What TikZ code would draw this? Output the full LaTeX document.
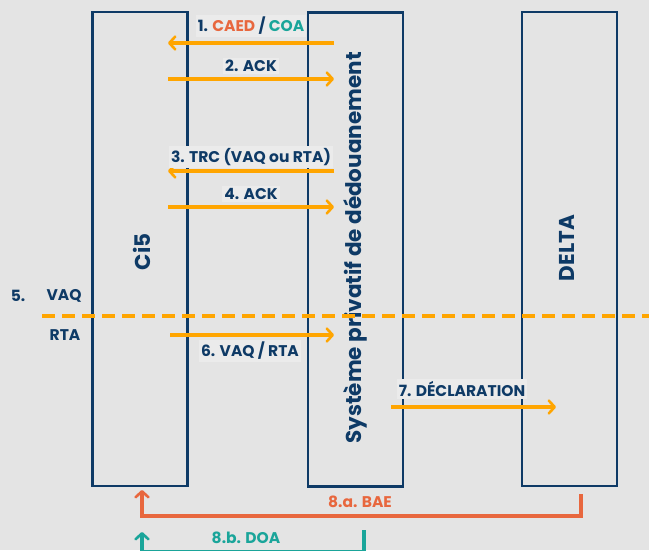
\documentclass[tikz,border=0pt]{standalone}
\usepackage{fontspec}
\setmainfont{Poppins}
\usepackage{tikz}
\usetikzlibrary {arrows.meta}

\definecolor{navy}{HTML}{0E3A66}
\definecolor{flow}{HTML}{FFA500}
\definecolor{bae}{HTML}{E8673E}
\definecolor{doa}{HTML}{1AA59A}
\definecolor{bg}{HTML}{E4E4E4}
\definecolor{lbg}{HTML}{EBEBEB}

\tikzset{
    system/.style={draw=navy, line width=2.2pt, minimum width=95pt, minimum height=474pt, inner sep=0pt},
    sysname/.style={text=navy, font=\bfseries\fontsize{21.5}{24}\selectfont, rotate=90},
    msg/.style={draw=flow, line width=3.6pt, -{Straight Barb[length=6pt,width=13pt,line width=2.6pt,round]}},
    msglabel/.style={text=navy, font=\bfseries\fontsize{15.5}{17}\selectfont, fill=lbg, inner sep=2pt},
    ret/.style={line width=3.6pt, -{Straight Barb[length=6pt,width=13pt,line width=2.6pt,round]}}
}

\begin{document}
\begin{tikzpicture}[x=1pt, y=-1pt]
    \fill[bg] (0,0) rectangle (649,550);
    \useasboundingbox (0,0) rectangle (649,550);

    % the three systems
    \node[system] (ci5) at (140,249) {};
    \node[system] (spd) at (355.5,249.5) {};
    \node[system] (delta) at (569.5,249) {};
    \node[sysname] (ci5name) at (142,252) {Ci5};
    \node[sysname] (spdname) at (355,248) {Système privatif de dédouanement};
    \node[sysname] (deltaname) at (567,248) {DELTA};

    % arrow ends
    \coordinate (a1s) at (334,43);  \coordinate (a1e) at (168,43);
    \coordinate (a2s) at (168,79);  \coordinate (a2e) at (334,79);
    \coordinate (a3s) at (334,171); \coordinate (a3e) at (168,171);
    \coordinate (a4s) at (168,207); \coordinate (a4e) at (334,207);
    \coordinate (a6s) at (170,335); \coordinate (a6e) at (334,335);
    \coordinate (a7s) at (391,407); \coordinate (a7e) at (556,407);

    \draw[msg] (a1s) -- (a1e);
    \draw[msg] (a2s) -- (a2e);
    \draw[msg] (a3s) -- (a3e);
    \draw[msg] (a4s) -- (a4e);
    \draw[msg] (a6s) -- (a6e);
    \draw[msg] (a7s) -- (a7e);

    \node[msglabel] (l1) at (251,26) {1. \textcolor{bae}{CAED} / \textcolor{doa}{COA}};
    \node[msglabel] (l2) at (251,66) {2. ACK};
    \node[msglabel] (l3) at (251,157) {3. TRC (VAQ ou RTA)};
    \node[msglabel] (l4) at (251,194) {4. ACK};
    \node[msglabel] (l6) at (250,351) {6. VAQ / RTA};
    \node[msglabel] (l7) at (462,389) {7. DÉCLARATION};

    % VAQ / RTA split
    \coordinate (cutl) at (42,316);
    \coordinate (cutr) at (649,316);
    \draw[flow, line width=3.6pt, dash pattern=on 13pt off 7pt] (cutl) -- (cutr);
    \node[msglabel, fill=none] (five) at (18,296) {5.};
    \node[msglabel, fill=none] (vaq) at (64,296) {VAQ};
    \node[msglabel, fill=none] (rta) at (65,335) {RTA};

    % returns
    \coordinate (baes) at (581,494);
    \coordinate (baee) at (142,490);
    \draw[ret, draw=bae] (baes) |- (142,516) -- (baee);
    \node[msglabel, fill=none, text=bae] (lbae) at (360,502) {8.a. BAE};
    \coordinate (doas) at (364,530);
    \coordinate (doae) at (142,532);
    \draw[ret, draw=doa] (doas) |- (142,552) -- (doae);
    \node[msglabel, fill=none, text=doa] (ldoa) at (246,538) {8.b. DOA};
\end{tikzpicture}
\end{document}
